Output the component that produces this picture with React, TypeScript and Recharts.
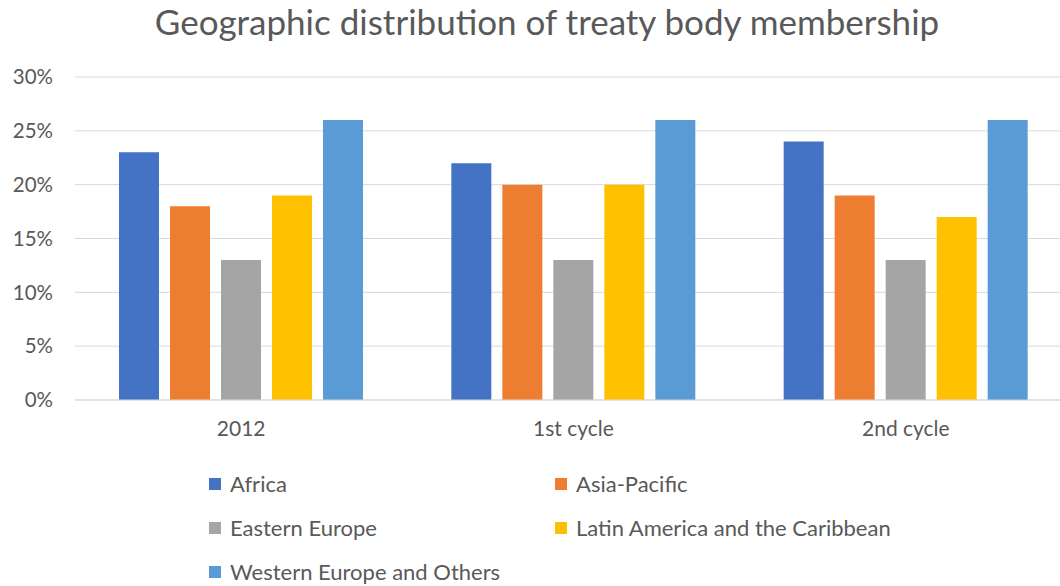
import { BarChart, Bar, XAxis, YAxis, CartesianGrid } from 'recharts';

const categories = ['2012', '1st cycle', '2nd cycle'];
const regions = [
  'Africa',
  'Asia-Pacific',
  'Eastern Europe',
  'Latin America and the Caribbean',
  'Western Europe and Others',
];
const africa = [23, 22, 24];
const asiaPacific = [18, 20, 19];
const easternEurope = [13, 13, 13];
const latinAmerica = [19, 20, 17];
const westernEurope = [26, 26, 26];
const yTicks = [0, 5, 10, 15, 20, 25, 30];

const COLORS = ['#4472C4', '#ED7D31', '#A5A5A5', '#FFC000', '#5B9BD5'];
const KEYS = ['africa', 'asiaPacific', 'easternEurope', 'latinAmerica', 'westernEurope'];

const data = categories.map((name, i) => ({
  name,
  africa: africa[i],
  asiaPacific: asiaPacific[i],
  easternEurope: easternEurope[i],
  latinAmerica: latinAmerica[i],
  westernEurope: westernEurope[i],
}));

const FONT = 'Lato, "Open Sans", sans-serif';
const TEXT = '#595959';

export default function App() {
  return (
    <div style={{ position: 'relative', width: 1060, height: 586, overflow: 'hidden', background: '#fff', fontFamily: FONT }}>
      <style>{'body{margin:0}'}</style>
      <div
        style={{
          position: 'absolute',
          top: 0,
          left: 547,
          transform: 'translateX(-50%)',
          whiteSpace: 'nowrap',
          fontSize: 35,
          color: TEXT,
        }}
      >
        Geographic distribution of treaty body membership
      </div>
      <BarChart
        width={1072}
        height={586}
        data={data}
        margin={{ top: 77, right: 0, left: 0, bottom: 146 }}
        barCategoryGap={44}
        barGap={11}
      >
        <CartesianGrid vertical={false} stroke="#D9D9D9" strokeWidth={1} />
        <XAxis
          dataKey="name"
          axisLine={{ stroke: '#D9D9D9' }}
          tickLine={false}
          tickSize={0}
          tickMargin={21}
          height={40}
          tick={{ fill: TEXT, fontSize: 21, fontFamily: FONT }}
        />
        <YAxis
          domain={[0, 30]}
          ticks={yTicks}
          width={75}
          axisLine={false}
          tickLine={false}
          tickSize={0}
          tickMargin={22}
          tickFormatter={(v: number) => `${v}%`}
          tick={{ fill: TEXT, fontSize: 20.5, fontFamily: FONT }}
        />
        {KEYS.map((key, i) => (
          <Bar key={key} dataKey={key} name={regions[i]} fill={COLORS[i]} isAnimationActive={false} />
        ))}
      </BarChart>
      {/* Legend */}
      {regions.map((label, i) => (
        <div
          key={label}
          style={{
            position: 'absolute',
            left: i % 2 === 0 ? 209 : 555,
            top: 471 + Math.floor(i / 2) * 44,
            display: 'flex',
            alignItems: 'center',
            fontSize: 22,
            lineHeight: '26px',
            color: TEXT,
            whiteSpace: 'nowrap',
            height: 26,
          }}
        >
          <span style={{ display: 'inline-block', width: 12, height: 12, background: COLORS[i], marginRight: 9 }} />
          {label}
        </div>
      ))}
    </div>
  );
}
